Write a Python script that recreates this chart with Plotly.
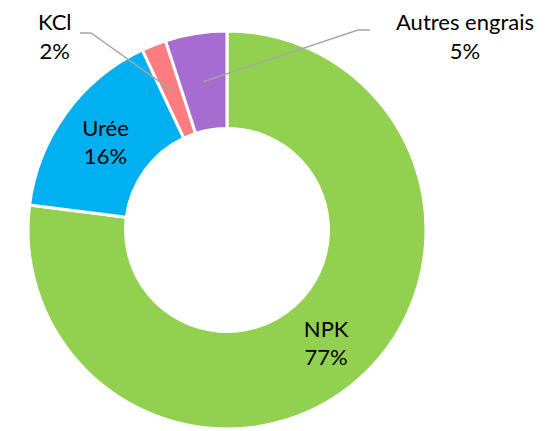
import math
import plotly.graph_objects as go

labels = ["NPK", "Urée", "KCl", "Autres engrais"]
values = [77, 16, 2, 5]
colors = ["#92D050", "#00B0F0", "#FF7C80", "#A66CCF"]
text_pos = ["inside", "inside", "none", "none"]

W, H = 554, 431
OFF = 8  # page body margin offset
cx, cy, R = 227 - OFF, 230 - OFF, 199
hole = 0.51
FONT = dict(family="Lato", size=22, color="black")

fig = go.Figure(go.Pie(
    labels=labels, values=values, sort=False, direction="clockwise", rotation=0,
    hole=hole,
    marker=dict(colors=colors, line=dict(color="white", width=3)),
    textinfo="label+percent", textposition=text_pos,
    insidetextorientation="horizontal",
    texttemplate="%{label}<br>%{percent:.0%}",
    textfont=FONT,
    domain=dict(x=[(cx - R) / W, (cx + R) / W], y=[1 - (cy + R) / H, 1 - (cy - R) / H]),
    showlegend=False, hoverinfo="label+percent",
))

# leader-line labels for small slices
total = sum(values)
cum = 0
mids = []
for v in values:
    mids.append((cum + v / 2) / total)
    cum += v
rmid = R * (1 + hole) / 2

def px_to_paper(x, y):
    return x / W, 1 - y / H

label_spec = {
    2: dict(text_xy=(55 - OFF, 36 - OFF), elbow=(91 - OFF, 33 - OFF), start=(80 - OFF, 33 - OFF)),
    3: dict(text_xy=(465 - OFF, 36 - OFF), elbow=(358 - OFF, 30 - OFF), start=(370 - OFF, 30 - OFF)),
}
shapes = []
annotations = []
for i, spec in label_spec.items():
    th = 2 * math.pi * mids[i]
    ex = cx + rmid * math.sin(th)
    ey = cy - rmid * math.cos(th)
    pts = [spec["start"], spec["elbow"], (ex, ey)]
    path = "M " + " L ".join(f"{px_to_paper(x, y)[0]:.5f},{px_to_paper(x, y)[1]:.5f}" for x, y in pts)
    shapes.append(dict(type="path", path=path, xref="paper", yref="paper",
                       line=dict(color="#A6A6A6", width=1.5)))
    tx, ty = px_to_paper(*spec["text_xy"])
    annotations.append(dict(text=f"{labels[i]}<br>{values[i] / total:.0%}", x=tx, y=ty,
                            xref="paper", yref="paper", showarrow=False,
                            xanchor="center", yanchor="middle", borderpad=0,
                            font=FONT))

fig.update_layout(width=W, height=H, margin=dict(l=0, r=0, t=0, b=0),
                  paper_bgcolor="white", plot_bgcolor="white",
                  shapes=shapes, annotations=annotations)
fig.write_html("out.html")
